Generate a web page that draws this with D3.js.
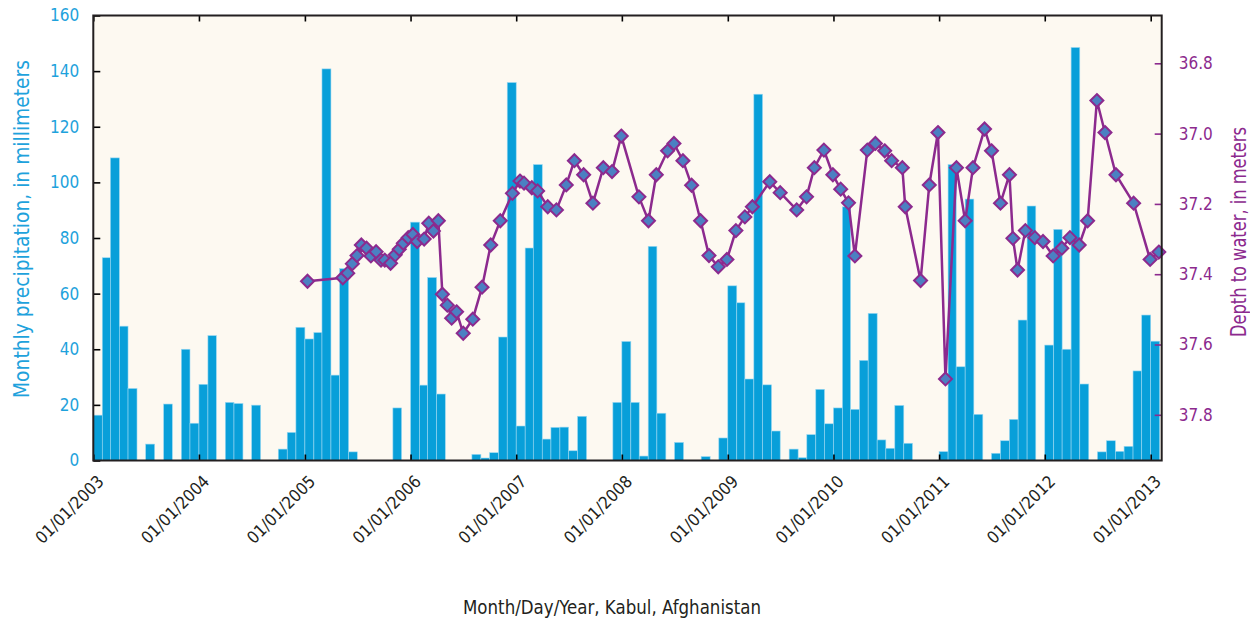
<!DOCTYPE html>
<html>
<head>
<meta charset="utf-8">
<script src="https://cdn.jsdelivr.net/npm/d3@7"></script>
<style>
  body { margin: 0; background: #fff; }
  text { font-family: "Liberation Sans Narrow", "DejaVu Sans Condensed", "Liberation Sans", sans-serif; }
</style>
</head>
<body>
<svg width="1250" height="621"></svg>
<script>
// monthly precipitation (mm), Jan 2003 .. Jan 2013
var firstMonth = "2003-01";
var precip = [
  16.3, 72.9, 108.8, 48.3, 25.9, 0, 5.9, 0, 20.3, 0, 40.0, 13.4,
  27.4, 44.9, 0, 20.9, 20.5, 0, 19.9, 0, 0, 4.1, 10.1, 47.9,
  43.7, 46.0, 140.8, 30.7, 69.0, 3.1, 0, 0, 0, 0, 18.9, 0,
  85.7, 27.1, 65.8, 23.9, 0, 0, 0, 2.2, 0.9, 2.8, 44.4, 135.9,
  12.4, 76.4, 106.4, 7.7, 11.9, 12.0, 3.5, 15.9, 0, 0, 0, 20.9,
  42.8, 20.9, 1.6, 77.0, 17.0, 0, 6.5, 0, 0, 1.4, 0, 8.1,
  62.8, 56.7, 29.3, 131.7, 27.2, 10.6, 0, 4.1, 1.0, 9.3, 25.6, 13.2,
  18.9, 91.2, 18.4, 36.0, 52.9, 7.4, 4.4, 19.8, 6.2, 0, 0, 0,
  3.2, 106.4, 33.7, 94.0, 16.6, 0, 2.6, 7.1, 14.8, 50.5, 91.5, 0,
  41.5, 83.1, 40.0, 148.5, 27.5, 0, 3.1, 7.1, 3.3, 5.1, 32.2, 52.3,
  42.9
];

// depth to water (m)
var depthDates = [
  "2005-01-10","2005-05-12","2005-05-29","2005-06-14","2005-06-30","2005-07-15",
  "2005-08-02","2005-08-17","2005-09-04","2005-09-21","2005-10-04","2005-10-24",
  "2005-11-09","2005-11-23","2005-12-07","2005-12-24","2006-01-09","2006-01-24",
  "2006-02-17","2006-03-05","2006-03-21","2006-04-07","2006-04-21","2006-05-08",
  "2006-05-23","2006-06-09","2006-07-02","2006-08-04","2006-09-05","2006-10-05",
  "2006-11-07","2006-12-19","2007-01-14","2007-01-28","2007-02-24","2007-03-16",
  "2007-04-20","2007-05-20","2007-06-23","2007-07-21","2007-08-22","2007-09-23",
  "2007-10-29","2007-11-28","2007-12-30","2008-02-29","2008-04-02","2008-04-29",
  "2008-06-07","2008-06-29","2008-07-30","2008-08-29","2008-09-29","2008-10-28",
  "2008-11-29","2008-12-29","2009-01-29","2009-03-01","2009-03-27","2009-05-26",
  "2009-07-01","2009-08-27","2009-09-30","2009-10-27","2009-11-29","2009-12-30",
  "2010-01-26","2010-02-22","2010-03-16","2010-04-28","2010-05-26","2010-06-27",
  "2010-07-21","2010-08-27","2010-09-06","2010-10-29","2010-11-28","2010-12-28",
  "2011-01-23","2011-03-02","2011-04-01","2011-04-28","2011-06-07","2011-07-01",
  "2011-08-01","2011-09-01","2011-09-13","2011-09-29","2011-10-26","2011-11-28",
  "2011-12-26","2012-01-30","2012-02-29","2012-03-28","2012-04-29","2012-05-28",
  "2012-06-29","2012-07-27","2012-09-03","2012-11-03","2012-12-30","2013-01-29"
];
var depth = [
  37.420, 37.410, 37.397, 37.370, 37.347, 37.317,
  37.326, 37.348, 37.336, 37.360, 37.360, 37.369,
  37.345, 37.329, 37.312, 37.296, 37.287, 37.307,
  37.300, 37.255, 37.277, 37.248, 37.457, 37.488,
  37.525, 37.507, 37.568, 37.528, 37.437, 37.317,
  37.248, 37.170, 37.135, 37.141, 37.154, 37.163,
  37.208, 37.217, 37.146, 37.077, 37.117, 37.198,
  37.097, 37.108, 37.007, 37.180, 37.248, 37.117,
  37.049, 37.028, 37.077, 37.147, 37.248, 37.347,
  37.379, 37.358, 37.276, 37.237, 37.208, 37.137,
  37.168, 37.217, 37.180, 37.097, 37.047, 37.117,
  37.158, 37.197, 37.348, 37.047, 37.028, 37.049,
  37.077, 37.097, 37.208, 37.418, 37.146, 36.997,
  37.698, 37.097, 37.248, 37.097, 36.987, 37.049,
  37.198, 37.117, 37.298, 37.388, 37.276, 37.296,
  37.307, 37.348, 37.326, 37.296, 37.317, 37.248,
  36.906, 36.997, 37.117, 37.198, 37.358, 37.337
];

var yearTicks = ["2003","2004","2005","2006","2007","2008","2009","2010","2011","2012","2013"];
var precipTicks = [0, 20, 40, 60, 80, 100, 120, 140, 160];
var depthTicks = [36.8, 37.0, 37.2, 37.4, 37.6, 37.8];

var svg = d3.select("svg");
var pL = 93.3, pR = 1161.7, pT = 15.5, pB = 460.5;
var parse = d3.timeParse("%Y-%m-%d");
var dark = "#231f20", blue = "#089fd9", cyanText = "#1ea2dc", purple = "#8c2a8e";

var x = d3.scaleTime()
  .domain([parse("2003-01-01"), parse("2013-02-08")])
  .range([pL, pR]);
var yP = d3.scaleLinear().domain([0, 160]).range([pB, pT]);
var yD = d3.scaleLinear().domain([36.664, 37.930]).range([pT, pB]);

// plot background
svg.append("rect")
  .attr("x", pL).attr("y", pT)
  .attr("width", pR - pL).attr("height", pB - pT)
  .attr("fill", "#fdf9f1");

// bars, one per month
var m0 = d3.timeParse("%Y-%m")(firstMonth);
var bars = precip.map(function(v, i) {
  return { start: d3.timeMonth.offset(m0, i), end: d3.timeMonth.offset(m0, i + 1), v: v };
});
svg.append("g").selectAll("rect")
  .data(bars.filter(function(d) { return d.v > 0; }))
  .enter().append("rect")
  .attr("x", function(d) { return x(d.start); })
  .attr("width", function(d) { return x(d.end) - x(d.start); })
  .attr("y", function(d) { return yP(d.v); })
  .attr("height", function(d) { return pB - yP(d.v); })
  .attr("fill", blue)
  .attr("stroke", "#9ad8f2")
  .attr("stroke-width", 0.6);

// axes
var yearDates = yearTicks.map(function(y) { return parse(y + "-01-01"); });
var fmt = d3.timeFormat("%m/%d/%Y");

var xb = svg.append("g").attr("transform", "translate(0," + pB + ")")
  .call(d3.axisBottom(x).tickValues(yearDates).tickSize(-6).tickFormat(fmt));
xb.selectAll("text")
  .attr("font-size", 17).attr("fill", dark)
  .style("text-anchor", "end")
  .attr("x", 0).attr("y", 0).attr("dy", 0)
  .attr("transform", "translate(11,22) rotate(-45)");
svg.append("g").attr("transform", "translate(0," + pT + ")")
  .call(d3.axisTop(x).tickValues(yearDates).tickSize(-6).tickFormat(""));

var yl = svg.append("g").attr("transform", "translate(" + pL + ",0)")
  .call(d3.axisLeft(yP).tickValues(precipTicks).tickSize(-7).tickPadding(14));
yl.selectAll("text").attr("font-size", 17).attr("fill", cyanText);

var yr = svg.append("g").attr("transform", "translate(" + pR + ",0)")
  .call(d3.axisRight(yD).tickValues(depthTicks).tickSize(-7).tickPadding(17).tickFormat(d3.format(".1f")));
yr.selectAll("text").attr("font-size", 17).attr("fill", purple);
yr.selectAll("line").attr("stroke", purple);

svg.selectAll(".domain").remove();
svg.selectAll(".tick line").attr("stroke-width", 1.6);

// depth line + diamonds
var pts = depthDates.map(function(d, i) { return { t: parse(d), v: depth[i] }; });
svg.append("path")
  .datum(pts)
  .attr("fill", "none")
  .attr("stroke", purple)
  .attr("stroke-width", 2.5)
  .attr("d", d3.line().x(function(d) { return x(d.t); }).y(function(d) { return yD(d.v); }));
svg.append("g").selectAll("path")
  .data(pts)
  .enter().append("path")
  .attr("transform", function(d) { return "translate(" + x(d.t) + "," + yD(d.v) + ")"; })
  .attr("d", "M0,-6.5L6.5,0L0,6.5L-6.5,0Z")
  .attr("fill", "#4b80c2")
  .attr("stroke", purple)
  .attr("stroke-width", 2);

// frame
svg.append("rect")
  .attr("x", pL).attr("y", pT)
  .attr("width", pR - pL).attr("height", pB - pT)
  .attr("fill", "none").attr("stroke", dark).attr("stroke-width", 2);

// titles
svg.append("text")
  .attr("transform", "translate(29,229) rotate(-90)")
  .attr("text-anchor", "middle")
  .attr("font-size", 21).attr("fill", cyanText)
  .attr("textLength", 338).attr("lengthAdjust", "spacingAndGlyphs")
  .text("Monthly precipitation, in millimeters");
svg.append("text")
  .attr("transform", "translate(1246,232) rotate(-90)")
  .attr("text-anchor", "middle")
  .attr("font-size", 21).attr("fill", purple)
  .attr("textLength", 210).attr("lengthAdjust", "spacingAndGlyphs")
  .text("Depth to water, in meters");
svg.append("text")
  .attr("x", 612).attr("y", 614)
  .attr("text-anchor", "middle")
  .attr("font-size", 20).attr("fill", dark)
  .attr("textLength", 298).attr("lengthAdjust", "spacingAndGlyphs")
  .text("Month/Day/Year, Kabul, Afghanistan");
</script>
</body>
</html>
